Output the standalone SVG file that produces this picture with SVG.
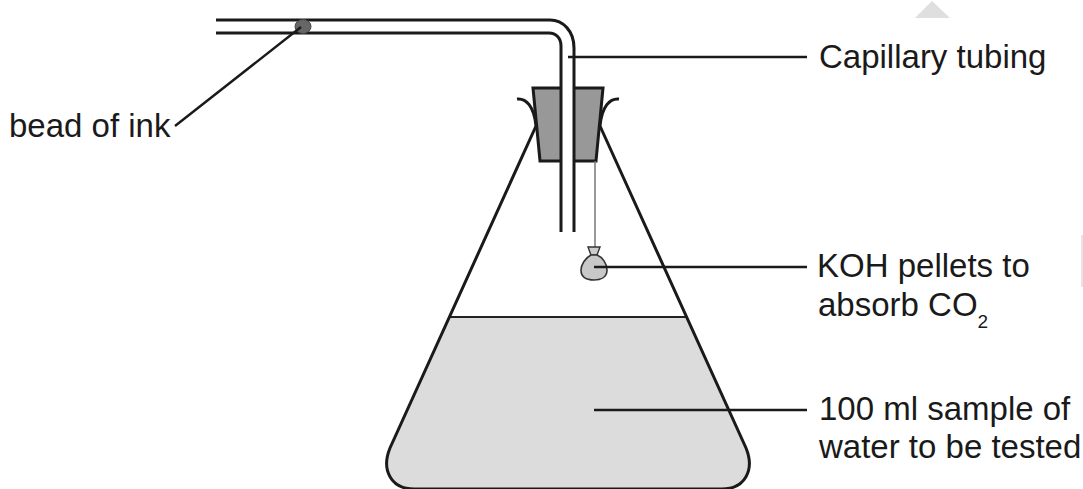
<svg xmlns="http://www.w3.org/2000/svg" width="1083" height="489" viewBox="0 0 1083 489">
<style>
.o{fill:none;stroke:#1a1a1a;stroke-width:3}
.l{fill:none;stroke:#1a1a1a;stroke-width:2.400}
text{font-family:"Liberation Sans",Arial,sans-serif;font-size:33px;fill:#1a1a1a}
</style>
<rect width="1083" height="489" fill="#fff"/>
<g id="watermark"><polygon points="915,18 932,1 950,18" fill="#dfdfdf"/><rect x="1081" y="235" width="2" height="52" fill="#e4e4e4"/></g>
<g id="water"><path d="M449,317H687L746,448C755,470 745,489 722,489H414C391,489 381,470 390,448Z" fill="#dcdcdc"/><path d="M449,317H687" fill="none" stroke="#222" stroke-width="2"/></g>
<g id="flask"><path class="o" d="M536,126L390,448C381,470 391,489 414,489H722C745,489 755,470 746,448L600,126"/><path class="o" d="M517,99C526,98 534,106 536,126M619,99C610,98 602,106 600,126"/></g>
<g id="bung"><path d="M533,88H603L596,161H540Z" fill="#989898" stroke="#1a1a1a" stroke-width="3"/></g>
<g id="tube"><path d="M561,50H574V232H561Z" fill="#fff"/><rect x="562" y="86" width="11" height="76" fill="#fff"/><path class="o" d="M216,20H550C563,20 574,31 574,48V232M216,33H549C556,33 561,38 561,46V232"/></g>
<g id="bead"><ellipse cx="303" cy="26.500" rx="8" ry="7" fill="#666" stroke="#444" stroke-width="1"/></g>
<g id="pellets"><path d="M595,161V247" fill="none" stroke="#777" stroke-width="1.500"/><path d="M588,247H600L597,255H591Z" fill="#ccc" stroke="#333" stroke-width="1.400"/><path d="M591,255C585,258 581,265 581,270C581,278 588,280 594,280C601,280 607,277 607,270C607,263 602,257 597,255Z" fill="#c8c8c8" stroke="#333" stroke-width="1.600"/></g>
<g id="connectors">
<path class="l" d="M301,27L175,126M568,57H807M594,267H807M594,410H807"/>
</g>
<g id="labels">
<text x="9" y="137">bead of ink</text>
<text x="819" y="68">Capillary tubing</text>
<text x="817" y="277">KOH pellets to</text>
<text x="818" y="316">absorb CO<tspan font-size="19" dy="12">2</tspan></text>
<text x="819" y="420">100 ml sample of</text>
<text x="819" y="458">water to be tested</text>
</g>
</svg>
